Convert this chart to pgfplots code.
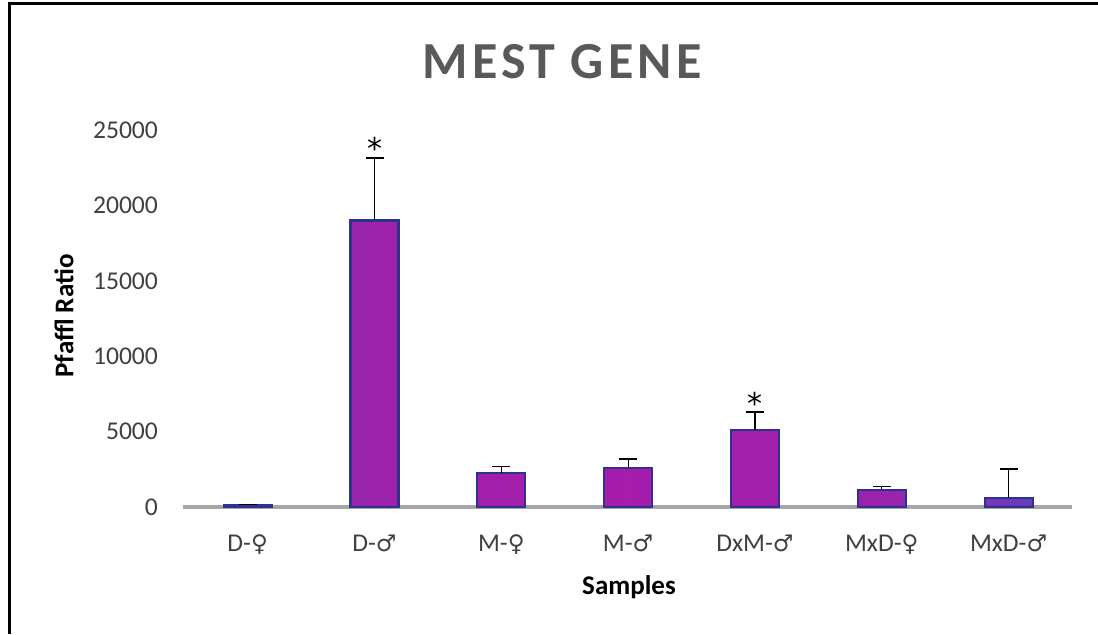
\documentclass[border=0pt]{standalone}
\usepackage{pgfplots}
\pgfplotsset{compat=1.18}
\usepackage{fontspec}
\setmainfont{Carlito}
\newfontfamily\symf{DejaVu Sans}
\newfontfamily\titlefont[LetterSpace=8]{Carlito}
\definecolor{baredge}{HTML}{2E3192}
\definecolor{axgray}{HTML}{A6A6A6}
\definecolor{ticktext}{HTML}{404040}
\definecolor{titlegray}{HTML}{595959}
\pgfdeclarehorizontalshading{barshade}{100bp}{%
  rgb(0bp)=(0.36,0.25,0.72);
  rgb(25bp)=(0.38,0.25,0.72);
  rgb(29bp)=(0.52,0.19,0.70);
  rgb(35bp)=(0.62,0.13,0.67);
  rgb(50bp)=(0.65,0.11,0.67);
  rgb(65bp)=(0.62,0.13,0.67);
  rgb(71bp)=(0.52,0.19,0.70);
  rgb(75bp)=(0.38,0.25,0.72);
  rgb(100bp)=(0.36,0.25,0.72)}
\newcommand{\fem}{{\symf\fontsize{11.5}{12}\selectfont ♀}}
\newcommand{\mal}{{\symf\fontsize{11.5}{12}\selectfont ♂}}
\begin{document}
\begin{tikzpicture}
\path[use as bounding box] (0,0) rectangle (549pt,317pt);
\draw[black, line width=1.5pt] (4.5pt,0) -- (4.5pt,315.5pt) -- (549pt,315.5pt);
\node[font=\titlefont\bfseries\fontsize{26}{28}\selectfont, text=titlegray] at (281pt,286pt) {MEST GENE};
\node[font=\bfseries\fontsize{13.5}{15}\selectfont, rotate=90] at (32pt,159pt) {Pfaffl Ratio};
\node[font=\bfseries\fontsize{13.5}{15}\selectfont] at (314.5pt,23.5pt) {Samples};
\begin{axis}[
  at={(91.5pt,63.5pt)}, anchor=south west,
  scale only axis, width=444.5pt, height=188.5pt,
  xmin=-0.51, xmax=6.5, ymin=0, ymax=25000,
  axis x line=bottom, axis y line=left,
  x axis line style={draw=axgray, line width=2pt, -},
  y axis line style={draw=none},
  major tick length=0pt,
  xtick={0,1,2,3,4,5,6},
  xticklabels={D-\fem, D-\mal, M-\fem, M-\mal, DxM-\mal, MxD-\fem, MxD-\mal},
  ytick={0,5000,10000,15000,20000,25000},
  scaled y ticks=false,
  /pgf/number format/assume math mode=true,
  yticklabel={\pgfmathprintnumber[fixed, 1000 sep={}]{\tick}},
  tick label style={font=\fontsize{12.8}{14}\selectfont, text=ticktext},
  xticklabel style={yshift=-10.5pt},
  yticklabel style={xshift=-9pt},
  clip=false,
]
\addplot[ybar, bar width=24pt, draw=baredge, line width=1.1pt,
  shading=barshade,
  error bars/.cd, y dir=plus, y explicit,
  error bar style={draw=black, line width=0.6pt},
  error mark options={rotate=90, mark size=4.5pt, draw=black, line width=0.6pt}]
  coordinates {
    (0,130) +- (0,60)
    (1,19000) +- (0,4150)
    (2,2250) +- (0,420)
    (3,2600) +- (0,580)
    (4,5100) +- (0,1200)
    (5,1130) +- (0,220)
    (6,600) +- (0,1920)
  };
\addplot[draw=none, point meta=explicit symbolic, nodes near coords,
  nodes near coords style={anchor=base, inner sep=0pt, yshift=-1pt, font=\symf\fontsize{15}{15}\selectfont, text=black}]
  coordinates {(1,23150) [*] (4,6300) [*]};
\end{axis}
\end{tikzpicture}
\end{document}
